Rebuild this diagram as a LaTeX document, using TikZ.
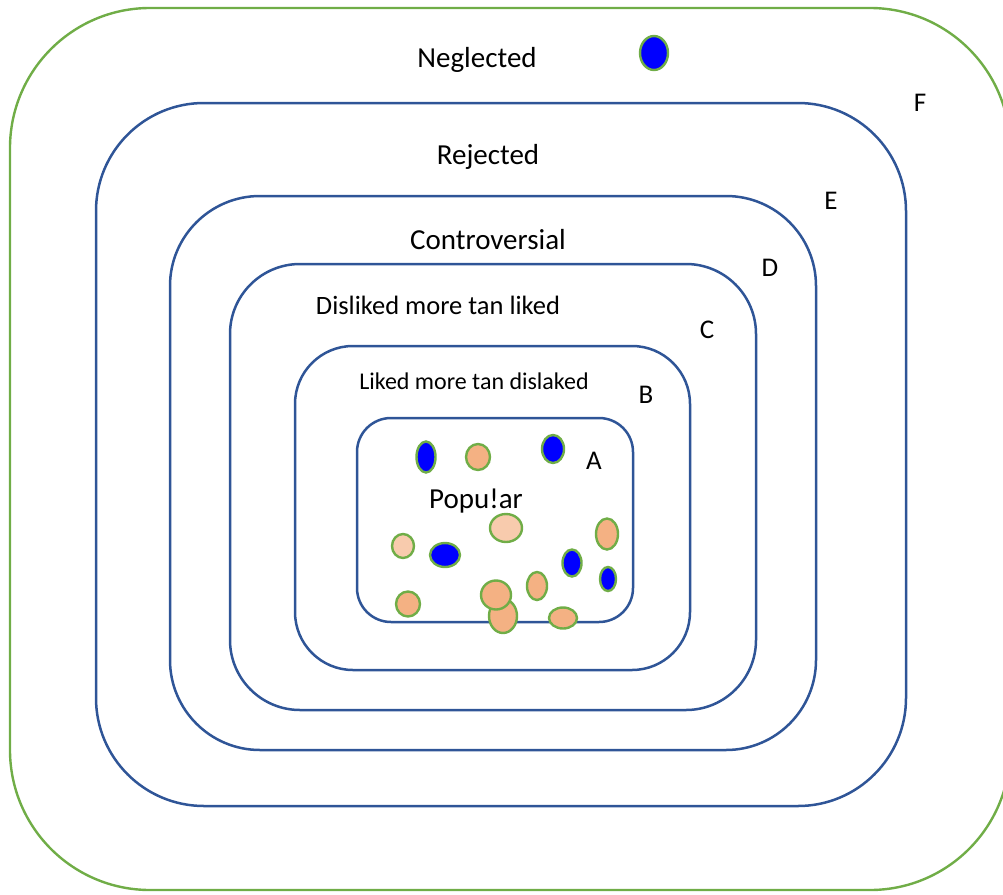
\documentclass[tikz,border=0pt]{standalone}
\usepackage{fontspec}
\setmainfont{Carlito}
\definecolor{layerblue}{HTML}{2F5597}
\definecolor{rimgreen}{HTML}{70AD47}
\definecolor{dotorange}{HTML}{F4B183}
\definecolor{dotpeach}{HTML}{F8CBAD}
\definecolor{dotblue}{HTML}{0000FF}

\tikzset{
  layer/.style={draw=layerblue,line width=2.5pt},
  dot/.style={draw=rimgreen,line width=2.4pt},
  lbl/.style={inner sep=0pt,font=\fontsize{29}{34}\selectfont},
}

\begin{document}
\begin{tikzpicture}[x=1pt,y=-1pt]
    \useasboundingbox (0,0) rectangle (1003,894);
    % ---- outer ring F (green, runs off the right edge) ----
    \draw[rimgreen,line width=2.4pt,rounded corners=140pt] (10,8) rectangle (1010,890);
    % ---- nested blue layers E .. A ----
    \draw[layer,rounded corners=108pt] (96,103)  rectangle (906,806);  % E
    \draw[layer,rounded corners=90pt]  (170,196) rectangle (816,750);  % D
    \draw[layer,rounded corners=70pt]  (230,264) rectangle (756,710);  % C
    \draw[layer,rounded corners=58pt]  (295,346) rectangle (690,670);  % B
    \draw[layer,rounded corners=34pt]  (357,418) rectangle (633,622);  % A
    % ---- layer names ----
    \node[lbl] (neglected) at (477,60)  {Neglected};
    \node[lbl] (rejected)  at (488,157) {Rejected};
    \node[lbl] (controv)   at (488,240) {Controversial};
    \node[lbl,font=\fontsize{26.5}{31}\selectfont] (disliked) at (438,305) {Disliked more tan liked};
    \node[lbl,font=\fontsize{24}{28}\selectfont]   (liked)    at (474,381) {Liked more tan dislaked};
    \node[lbl] (popular)   at (476,501) {Popu!ar};
    % ---- layer letters ----
    \foreach \n/\x/\y in {F/920/103,E/831/201,D/770/268,C/707/330,B/646/395,A/594/461}{
      \node[lbl,font=\fontsize{27}{32}\selectfont] (let\n) at (\x,\y) {\n};}
    % ---- items ----
    \fill[dotblue,dot] (654,53) ellipse [x radius=14,y radius=17];
    \foreach \x/\y/\a/\b/\c in {%
      426/457/9.5/15.5/dotblue, 478/457/12/13/dotorange, 553/449/11/14/dotblue,%
      506/528/16/14/dotpeach, 607/534/11/15.5/dotorange, 403/546/11/12/dotpeach,%
      445/555/15/12/dotblue, 572/563/9.5/13.5/dotblue, 608/579/8/12/dotblue,%
      537/586/10/14/dotorange, 408/604/12/12.5/dotorange, 503/616/14/17/dotorange,%
      496/595/15/14.5/dotorange, 563/618/14/10.5/dotorange}{
        \fill[\c,dot] (\x,\y) ellipse [x radius=\a,y radius=\b];}
  \end{tikzpicture}
\end{document}
